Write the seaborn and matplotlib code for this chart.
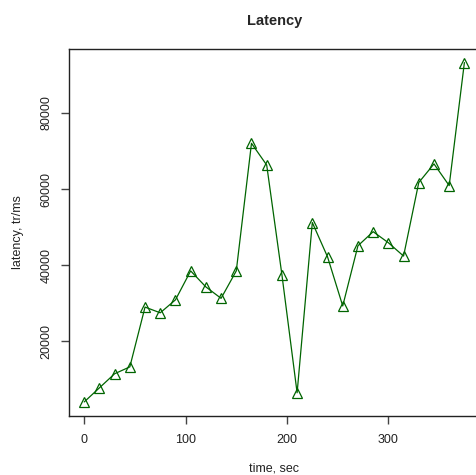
import matplotlib
matplotlib.use("Agg")
import matplotlib.pyplot as plt
import seaborn as sns
import pandas as pd

# Sample times (seconds) and measured latency (tr/ms)
time_sec = [0, 15, 30, 45, 60, 75, 90, 105, 120, 135, 150, 165, 180,
            195, 210, 225, 240, 255, 270, 285, 300, 315, 330, 345, 360, 375]
latency = [4100, 7800, 11500, 13300, 29000, 27500, 30900, 38500, 34300,
           31300, 38500, 72000, 66300, 37500, 6500, 51200, 42200, 29300,
           45100, 48800, 45900, 42400, 61700, 66600, 60900, 93200]
x_ticks = [0, 100, 200, 300]
y_ticks = [20000, 40000, 60000, 80000]

df = pd.DataFrame({"time": time_sec, "latency": latency})

sns.set_style("ticks")
plt.rcParams["font.family"] = ["Liberation Sans", "DejaVu Sans"]

W, H = 477, 475
fig = plt.figure(figsize=(W / 100, H / 100), dpi=100)
left, right, top, bottom = 69, 479.6, 49, 415.5
ax = fig.add_axes([left / W, (H - bottom) / H, (right - left) / W, (bottom - top) / H])

sns.lineplot(data=df, x="time", y="latency", ax=ax, color="#006400",
             linewidth=0.9, marker="^", markersize=6.5,
             markerfacecolor="none", markeredgecolor="#006400",
             markeredgewidth=0.9)

# Axis limits padded by 4% of the data range
def padded(vals):
    lo, hi = min(vals), max(vals)
    d = (hi - lo) * 0.04
    return lo - d, hi + d

ax.set_xlim(*padded(time_sec))
ax.set_ylim(*padded(latency))
ax.set_xticks(x_ticks)
ax.set_yticks(y_ticks)
ax.set_yticklabels([str(v) for v in y_ticks], rotation=90, va="center")

for s in ax.spines.values():
    s.set_visible(True)
    s.set_color("#222222")
    s.set_linewidth(1.0)

ax.tick_params(axis="both", direction="out", length=6, width=1.0,
               color="#444444", labelsize=9, labelcolor="#222222")
ax.tick_params(axis="x", pad=7)
ax.tick_params(axis="y", pad=6)

ax.set_xlabel("time, sec", fontsize=9, color="#222222", labelpad=12.5)
ax.set_ylabel("latency, tr/ms", fontsize=9, color="#222222", labelpad=12)
ax.set_title("Latency", fontsize=10.5, fontweight="bold", pad=17)

fig.savefig("out.png", dpi=100)
